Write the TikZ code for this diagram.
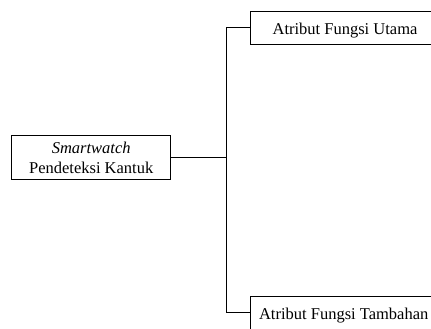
\documentclass[tikz,border=0pt]{standalone}
\usepackage{fontspec}
\setmainfont{Liberation Serif}
\tikzset{
  box/.style={draw, line width=0.9pt, inner sep=0pt, align=center,
    font=\fontsize{16.5}{20}\selectfont},
  link/.style={draw, line width=0.9pt}
}
\begin{document}
\begin{tikzpicture}[x=1pt, y=-1pt]
  \useasboundingbox (0,0) rectangle (431,329);
  % root box
  \node[box, minimum width=159pt, minimum height=44.3pt, text height=34pt, text depth=1.8pt]
    (main) at (91.2,157.2) {\textit{Smartwatch}\\Pendeteksi Kantuk};
  % child boxes (run past the right and bottom edges)
  \node[box, minimum width=188.6pt, minimum height=32.3pt, text height=15pt, text depth=1.5pt]
    (utama) at (345,27.85) {Atribut Fungsi Utama};
  \node[box, minimum width=186pt, minimum height=32.3pt, text height=15pt, text depth=1.5pt]
    (tambahan) at (343.7,312.85) {Atribut Fungsi Tambahan};
  % tree connectors
  \coordinate (jn) at (226.7,157.2);
  \draw[link] (main.east) -- (jn);
  \draw[link] (jn) |- (utama.west);
  \draw[link] (jn) |- (tambahan.west);
\end{tikzpicture}
\end{document}
